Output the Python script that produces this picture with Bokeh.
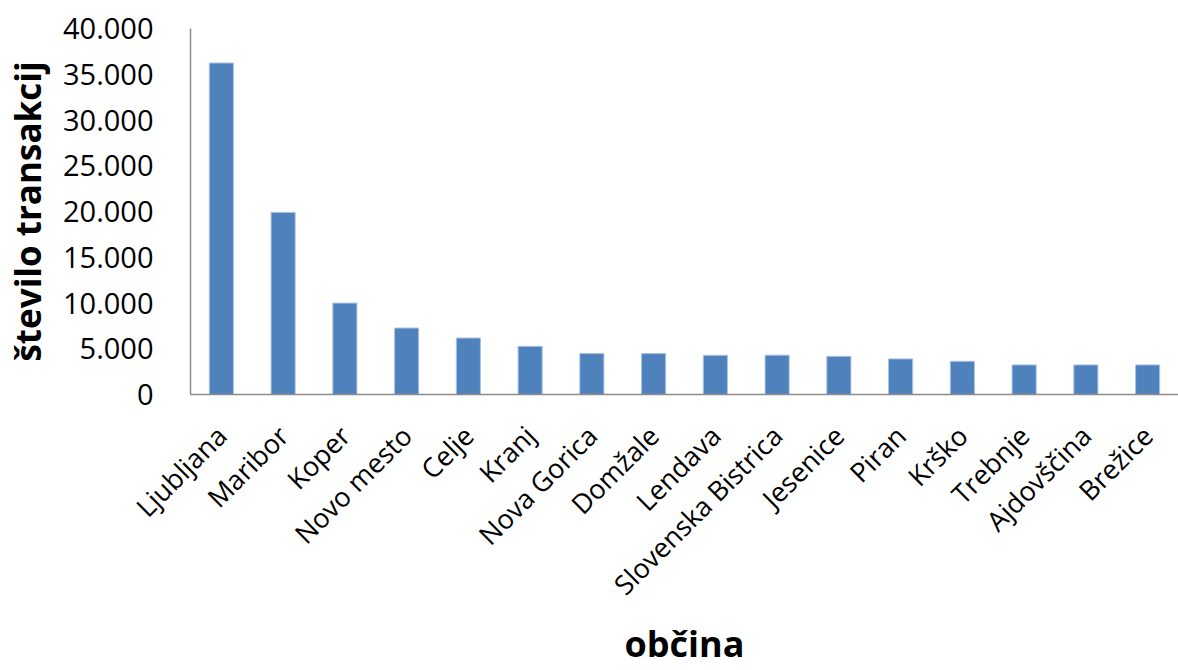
import math
from bokeh.plotting import figure
from bokeh.models import ColumnDataSource, FixedTicker, CustomJSTickFormatter
from bokeh.embed import file_html
from bokeh.resources import INLINE

obcine = ["Ljubljana", "Maribor", "Koper", "Novo mesto", "Celje", "Kranj",
          "Nova Gorica", "Domžale", "Lendava", "Slovenska Bistrica", "Jesenice",
          "Piran", "Krško", "Trebnje", "Ajdovščina", "Brežice"]
transakcije = [36230, 19900, 9990, 7260, 6170, 5260, 4470, 4470, 4280, 4300,
               4170, 3890, 3630, 3230, 3230, 3230]
y_ticks = [0, 5000, 10000, 15000, 20000, 25000, 30000, 35000, 40000]
x_title = "občina"
y_title = "število transakcij"

FONT = "Open Sans"

src = ColumnDataSource(dict(x=obcine, y=transakcije))

p = figure(x_range=obcine, y_range=(0, 40000), width=1178, height=670,
           output_backend="svg", toolbar_location=None,
           min_border_left=188, min_border_right=0, min_border_top=28,
           min_border_bottom=275)
p.vbar(x="x", top="y", width=0.39, source=src, fill_color="#4F81BD",
       line_color="#A9C1E2", line_width=1)

p.outline_line_color = None
p.grid.grid_line_color = None
p.background_fill_color = "white"

p.yaxis.ticker = FixedTicker(ticks=y_ticks)
p.yaxis.formatter = CustomJSTickFormatter(code="""
    return tick.toString().replace(/\\B(?=(\\d{3})+(?!\\d))/g, '.');
""")
for ax in (p.xaxis[0], p.yaxis[0]):
    ax.axis_line_color = "#8C8C8C"
    ax.axis_line_width = 1.5
    ax.major_tick_line_color = None
    ax.minor_tick_line_color = None
    ax.major_label_text_font = FONT
    ax.major_label_text_color = "black"
    ax.axis_label_text_font = FONT
    ax.axis_label_text_font_style = "bold"
    ax.axis_label_text_color = "black"

p.yaxis.major_label_text_font_size = "29px"
p.yaxis.major_label_standoff = 31
p.yaxis.axis_label = y_title
p.yaxis.axis_label_text_font_size = "35px"
p.yaxis.axis_label_standoff = 9

p.xaxis.major_label_text_font_size = "27px"
p.xaxis.major_label_orientation = math.pi / 4
p.xaxis.major_label_standoff = 30
p.xaxis.axis_label = x_title
p.xaxis.axis_label_text_font_size = "36px"
p.xaxis.axis_label_standoff = 0

open("out.html", "w").write(file_html(p, INLINE))
